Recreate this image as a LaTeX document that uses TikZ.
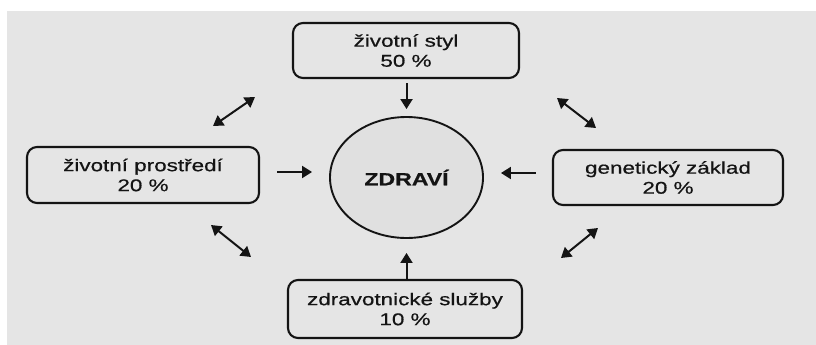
\documentclass[tikz,border=0pt]{standalone}
\usepackage{fontspec}
\setmainfont{Liberation Sans}[FakeStretch=1.32,FakeBold=0.6]
\usetikzlibrary{arrows.meta,shapes.geometric}
\definecolor{paper}{RGB}{229,229,229}
\definecolor{paperdark}{RGB}{224,224,224}
\definecolor{ink}{RGB}{20,20,20}
\tikzset{
  factor/.style={draw=ink, line width=2.1pt, rounded corners=10pt, text=ink,
    align=center, inner sep=0pt, font=\fontsize{17}{20}\selectfont},
  tip/.style={Triangle[length=10pt,width=12pt]},
  arr/.style={draw=ink, line width=2pt, -{Triangle[length=10pt,width=12pt]}},
  darr/.style={draw=ink, line width=2pt, {Triangle[length=10pt,width=12pt]}-{Triangle[length=10pt,width=12pt]}},
}
\begin{document}
\begin{tikzpicture}[x=1pt,y=-1pt]
\useasboundingbox (0,0) rectangle (816,345);
\fill[white] (0,0) rectangle (816,345);
\fill[paper] (7,11) rectangle (816,345);
% boxes
\node[factor, minimum width=226pt, minimum height=55pt] (styl) at (406,50.5) {životní styl\\50 \%};
\node[factor, minimum width=232pt, minimum height=56pt] (prost) at (143,175) {životní prostředí\\20 \%};
\node[factor, minimum width=230pt, minimum height=55pt] (gen) at (668,177.5) {genetický základ\\20 \%};
\node[factor, minimum width=234pt, minimum height=58pt] (sluz) at (405,309) {zdravotnické služby\\10 \%};
\node[draw=ink, line width=1.9pt, fill=paperdark, ellipse, minimum width=153pt, minimum height=121pt, inner sep=0pt,
  text=ink, font=\fontsize{17.5}{20}\selectfont\bfseries] (zdr) at (406.5,177.5) {ZDRAVÍ};
% arrows to centre
\draw[arr, shorten <=4pt, shorten >=7pt] (styl.south -| zdr.north) -- (zdr.north);
\draw[arr, shorten <=17pt, shorten >=17pt] (prost.east |- 0,172) -- (zdr.west |- 0,172);
\draw[arr, shorten <=16pt, shorten >=17pt] (gen.west |- 0,173) -- (zdr.east |- 0,173);
\draw[arr, shorten >=14pt] (sluz.north -| zdr.south) -- (zdr.south);
% double arrows between factors
\coordinate (ul1) at (213,126); \coordinate (ul2) at (255,97);
\coordinate (ur1) at (557,98);  \coordinate (ur2) at (596,128);
\coordinate (ll1) at (211,225); \coordinate (ll2) at (251,257);
\coordinate (lr1) at (598,228); \coordinate (lr2) at (561,258);
\draw[darr] (ul1) -- (ul2);
\draw[darr] (ur1) -- (ur2);
\draw[darr] (ll1) -- (ll2);
\draw[darr] (lr1) -- (lr2);
\end{tikzpicture}
\end{document}
